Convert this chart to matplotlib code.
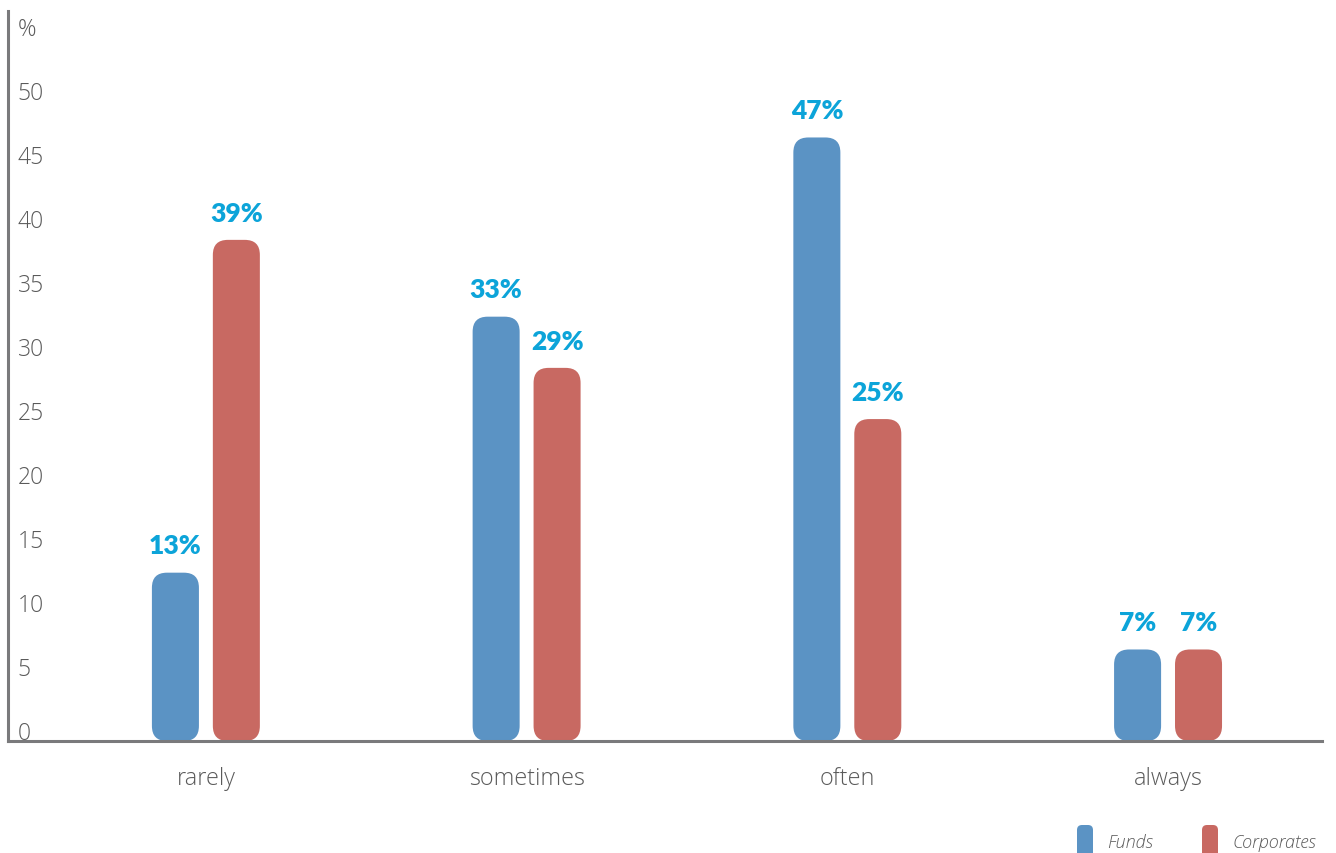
import matplotlib
matplotlib.use("Agg")
import matplotlib.pyplot as plt
from matplotlib.patches import FancyBboxPatch
import numpy as np

categories = ["rarely", "sometimes", "often", "always"]
funds = [13, 33, 47, 7]
corporates = [39, 29, 25, 7]
series_names = ["Funds", "Corporates"]
yticks = [0, 5, 10, 15, 20, 25, 30, 35, 40, 45, 50]

BLUE = "#5b93c4"
RED = "#c86962"
CYAN = "#0ca4d9"
GRAY = "#5a5a5a"
AXIS = "#7a7a7c"

plt.rcParams['font.family'] = ['Open Sans', 'DejaVu Sans']

fig = plt.figure(figsize=(13.36, 8.54), dpi=100)
ax = fig.add_axes([8/1336, 1-742/854, (1322-8)/1336, (742-12)/854])
ax.set_xlim(-0.617, 3.48)
ax.set_ylim(-0.15, 56.88)

x = np.arange(len(categories))
w = 0.1466
off = 0.095

fig.canvas.draw()
px_x = (ax.get_xlim()[1]-ax.get_xlim()[0]) / ax.bbox.width
px_y = (ax.get_ylim()[1]-ax.get_ylim()[0]) / ax.bbox.height
radius_px = 15
aspect = px_y / px_x

def rounded_bars(xpos, vals, color):
    bars = ax.bar(xpos, vals, width=w, color=color, bottom=0)
    for r in bars:
        bx, by = r.get_x(), r.get_y()
        bw, bh = r.get_width(), r.get_height()
        p = FancyBboxPatch((bx, by - 0.15), bw, bh + 0.15,
                           boxstyle=f"round,pad=0,rounding_size={radius_px*px_x}",
                           mutation_aspect=aspect, facecolor=color, edgecolor='none')
        r.remove()
        ax.add_patch(p)
    for xi, v in zip(xpos, vals):
        ax.annotate(f"{v}%", (xi, v), xytext=(0, 11), textcoords='offset points',
                    ha='center', va='bottom', color=CYAN, fontsize=19,
                    fontweight='heavy', family=['Lato', 'DejaVu Sans'])

rounded_bars(x - off, funds, BLUE)
rounded_bars(x + off, corporates, RED)

for s in ['top', 'right']:
    ax.spines[s].set_visible(False)
for s in ['left', 'bottom']:
    ax.spines[s].set_color(AXIS)
    ax.spines[s].set_linewidth(2.2)

ax.set_yticks(yticks)
ax.set_yticklabels([str(t) for t in yticks])
ax.tick_params(axis='y', length=0, pad=-7, labelsize=16.5, labelcolor=GRAY)
for lab in ax.get_yticklabels():
    lab.set_ha('left')
    lab.set_va('baseline')
    lab.set_fontweight('light')
ax.text(10/1314, 55.0, "%", transform=ax.get_yaxis_transform(), ha='left', va='baseline',
        fontsize=16.5, color=GRAY, fontweight='light')

ax.set_xticks(x)
ax.set_xticklabels(categories)
ax.tick_params(axis='x', length=0, pad=18, labelsize=16.8, labelcolor=GRAY)
for lab in ax.get_xticklabels():
    lab.set_fontweight('light')

legend_items = [(1077, BLUE, series_names[0]), (1202, RED, series_names[1])]
for px, col, name in legend_items:
    p = FancyBboxPatch((px/1336, 1-862/854), 16/1336, 36/854,
                       boxstyle=f"round,pad=0,rounding_size={5/1336}",
                       mutation_aspect=1336/854, transform=fig.transFigure,
                       facecolor=col, edgecolor='none', clip_on=False)
    fig.add_artist(p)
    fig.text((px+30)/1336, 1-843/854, name, ha='left', va='center', fontsize=13,
             style='italic', color=GRAY, fontweight='light')

fig.savefig("out.png", dpi=100)
